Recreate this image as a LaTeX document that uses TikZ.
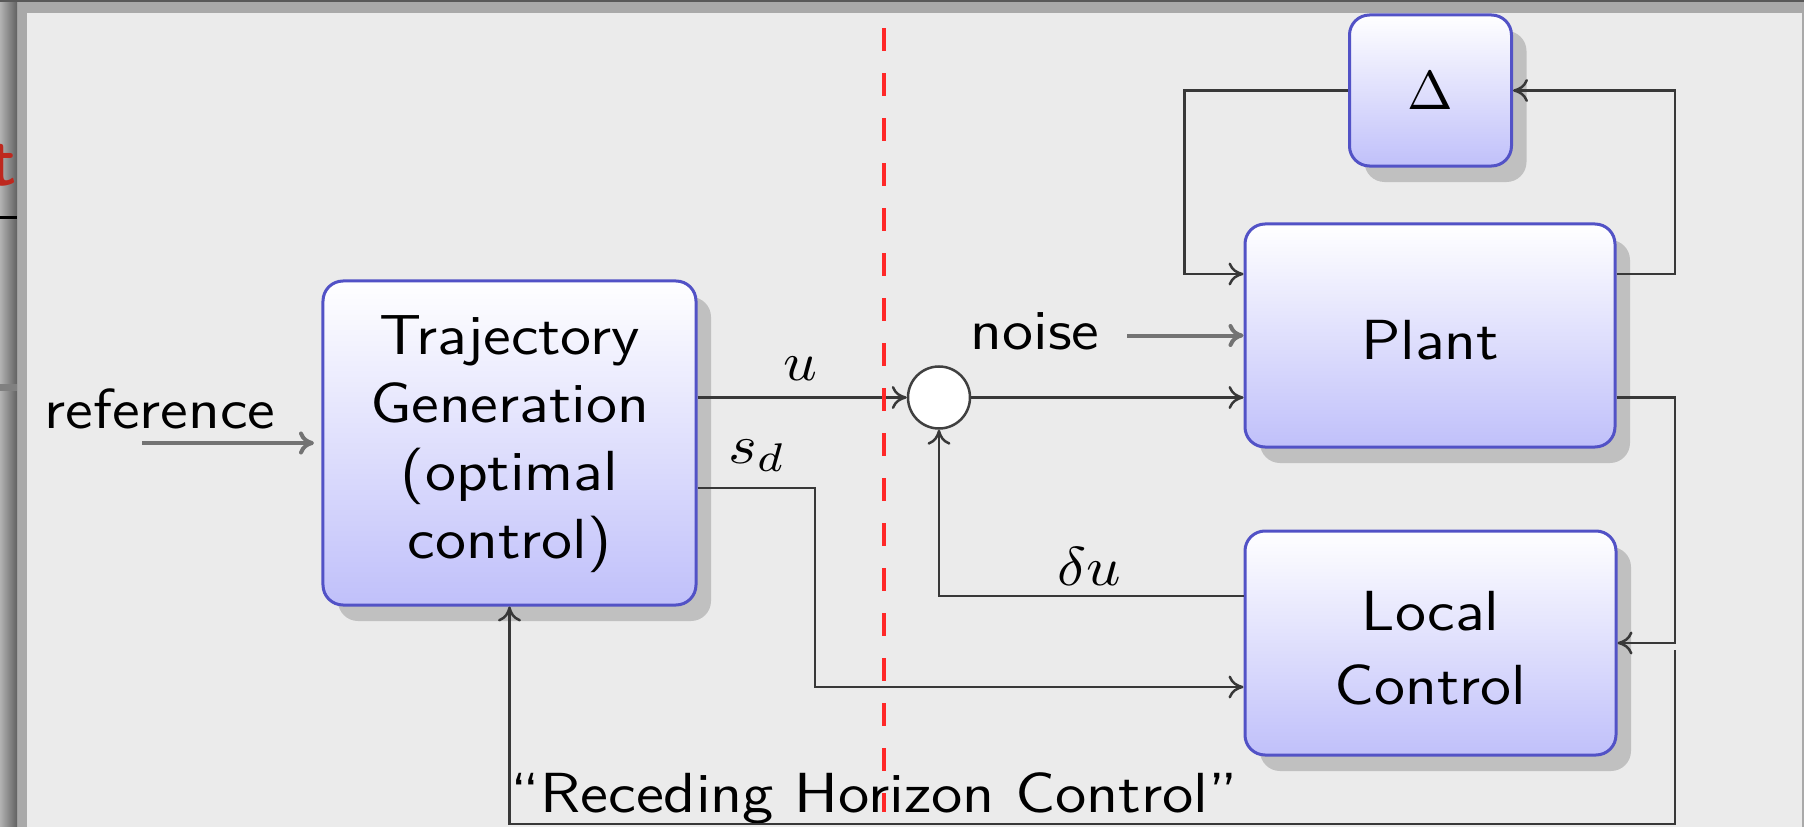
\documentclass[tikz,border=0pt]{standalone}
\usetikzlibrary{shadows,arrows.meta}
\definecolor{bgc}{HTML}{EBEBEB}
\definecolor{framec}{HTML}{A9A9A9}
\definecolor{boxborder}{RGB}{82,82,198}
\definecolor{boxbottom}{RGB}{192,192,250}
\definecolor{shadowc}{HTML}{C0C0C0}
\definecolor{dashred}{RGB}{255,40,40}
\definecolor{tred}{RGB}{190,40,30}
\newcommand\wtxt[1]{\scalebox{1.12}[1]{\begin{tabular}{@{}c@{}}#1\end{tabular}}}
\newcommand\lowered[2]{\raisebox{-#1}[\height][\depth]{#2}}
\begin{document}
\begin{tikzpicture}[x=0.2pt,y=-0.2pt,
  txt/.style={font=\sffamily\fontsize{11.3}{13.6}\selectfont},
  blk/.style={txt, draw=boxborder, line width=0.6pt, rounded corners=4pt,
    top color=white, bottom color=boxbottom, align=center, inner sep=0pt,
    drop shadow={shadow xshift=3pt, shadow yshift=-3.2pt, fill=shadowc, opacity=1}},
  lbl/.style={txt, inner sep=0pt},
  conn/.style={draw=black!78, line width=0.5pt, -{Computer Modern Rightarrow[length=3pt,width=4.6pt]}},
  freearrow/.style={draw=black!55, line width=0.8pt, -{Computer Modern Rightarrow[length=3pt,width=4.6pt]}},
  sumnode/.style={circle, draw=black!75, line width=0.5pt, fill=white, minimum size=12.4pt, inner sep=0pt},
  horizon/.style={draw=dashred, line width=0.8pt, dash pattern=on 4.6pt off 4.4pt}
]
\useasboundingbox (0,0) rectangle (1804,827);
% window frame
\fill[framec] (0,0) rectangle (1804,827);
\shade[left color=black!30, right color=black!62] (0,0) rectangle (17,827);
\fill[black!65] (0,0) rectangle (1804,2.5);
\fill[bgc] (27,13) rectangle (1802,827);
\begin{scope}
  \clip (0,0) rectangle (17,827);
  \node[anchor=base east, text=tred, font=\sffamily\bfseries\fontsize{14}{16}\selectfont, inner sep=0pt] (tfrag) at (18,185) {t};
\end{scope}
\draw[black, line width=0.6pt] (0,217) -- (17,217);
\fill[black!50] (0,384) rectangle (17,391);

% blocks
\node[blk, minimum width=74.6pt, minimum height=64.8pt] (traj) at (509.5,443) {\wtxt{Trajectory\\Generation\\(optimal\\control)}};
\node[blk, minimum width=32.4pt, minimum height=30.2pt] (delta) at (1430.5,90.5) {$\Delta$};
\node[blk, minimum width=74pt, minimum height=44.6pt] (plant) at (1430,335.5) {\lowered{2pt}{\wtxt{Plant}}};
\node[blk, minimum width=74.2pt, minimum height=44.8pt] (local) at (1430.5,643) {\lowered{2.2pt}{\wtxt{Local\\[1.2pt]Control}}};
\node[sumnode] (circ) at (939,397.5) {};

% labels
\node[lbl, anchor=base] (reflbl) at (160,428) {\scalebox{1.12}[1]{reference}};
\node[lbl, anchor=base] (noiselbl) at (1035,350) {\scalebox{1.12}[1]{noise}};
\node[lbl, anchor=base] (ulbl) at (800,380) {\scalebox{1.08}[1]{$u$}};
\node[lbl, anchor=base] (sdlbl) at (757,463) {\scalebox{1.12}[1]{$s_d$}};
\node[lbl, anchor=base] (dulbl) at (1089,585) {\scalebox{1.1}[1]{$\delta u$}};
\node[lbl, anchor=base] (rhc) at (874.5,812) {\scalebox{1.13}[1]{“Receding Horizon Control”}};

% coordinates
\coordinate (refstart) at (142,443);
\coordinate (noisestart) at (1127,335.5);
\coordinate (dL) at (1184.5,274);
\coordinate (dR) at (1675,274);
\coordinate (po) at (1675,397.5);
\coordinate (fb1) at (1675,650);
\coordinate (fb2) at (1675,824);
\coordinate (sd1) at (815,488);
\coordinate (sd2) at (815,687);
\coordinate (du) at (939,596);
\coordinate (rtop) at (884,28);
\coordinate (rbot) at (884,812);

% connectors
\draw[freearrow, shorten >=1.5pt] (refstart) -- (traj.west);
\draw[freearrow] (noisestart) -- (plant.west);
\draw[conn] (traj.east |- circ) -- (circ.west);
\draw[conn] (circ.east) -- (circ.east -| plant.west);
\draw[conn] (delta.west) -| (dL) -- (dL -| plant.west);
\draw[conn] (dR -| plant.east) -- (dR) |- (delta.east);
\draw[conn] (po -| plant.east) -- (po) |- (local.east);
\draw[conn] (fb1) -- (fb2) -| (traj.south);
\draw[conn] (traj.east |- sd1) -- (sd1) -- (sd2) -- (sd2 -| local.west);
\draw[conn] (du -| local.west) -- (du) -- (circ.south);

% horizon line
\draw[horizon] (rtop) -- (rbot);
\end{tikzpicture}
\end{document}
